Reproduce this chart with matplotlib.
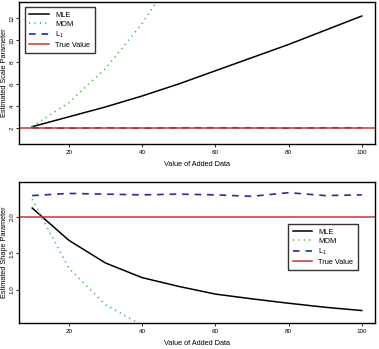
import numpy as np
import matplotlib.pyplot as plt

plt.rcParams['font.family'] = ['Liberation Sans', 'DejaVu Sans']
plt.rcParams['mathtext.fontset'] = 'custom'
plt.rcParams['mathtext.rm'] = 'Liberation Sans'

# --- data ---
added = [10, 20, 30, 40, 50, 60, 70, 80, 90, 100]

# scale parameter estimates
scale_mle = [2.1, 3.0, 3.9, 4.9, 6.0, 7.2, 8.4, 9.6, 10.9, 12.2]
scale_mom = [2.1, 4.3, 7.4, 11.5, 16.5, 22.0, 28.0, 35.0, 43.0, 52.0]
scale_l1 = [2.0, 1.96, 2.0, 1.96, 2.0, 2.0, 2.0, 1.96, 2.0, 2.0]
scale_true = 2

# shape parameter estimates
shape_mle = [2.12, 1.68, 1.37, 1.17, 1.05, 0.945, 0.88, 0.82, 0.765, 0.72]
shape_mom = [2.24, 1.30, 0.80, 0.52, 0.38, 0.30, 0.25, 0.21, 0.18, 0.16]
shape_l1 = [2.29, 2.32, 2.31, 2.30, 2.31, 2.30, 2.28, 2.33, 2.29, 2.30]
shape_true = 2.0

labels = ['MLE', 'MOM', r'L$_\mathregular{1}$', 'True Value']

fig = plt.figure(figsize=(3.79, 3.49), dpi=100)
ax1 = fig.add_axes([0.0501, 0.5874, 0.9393, 0.4069])
ax2 = fig.add_axes([0.0501, 0.0745, 0.9393, 0.4049])


def draw(ax, mle, mom, l1, true, ylim, yticks, ylab, leg_xy):
    ax.plot(added, mle, color='black', lw=1.1, label=labels[0])
    ax.plot(added, mom, color='#33bb33', lw=1.3, linestyle=(0, (0.6, 2.4)),
            label=labels[1])
    ax.plot(added, l1, color='#2a2aa0', lw=1.2, linestyle=(0, (4, 3.5)),
            label=labels[2])
    ax.axhline(true, color='#cc3333', lw=1.1, label=labels[3])
    ax.set_xlim(6.4, 103.6)
    ax.set_ylim(*ylim)
    ax.set_xticks([20, 40, 60, 80, 100])
    ax.set_yticks(yticks)
    ax.tick_params(labelsize=4.5, length=2, width=0.6, pad=2)
    ax.tick_params(axis='y', pad=1.2)
    for t in ax.get_yticklabels():
        t.set_rotation(90)
        t.set_va('center')
    for s in ax.spines.values():
        s.set_linewidth(1.0)
    ax.set_xlabel('Value of Added Data', fontsize=5.3)
    ax.xaxis.set_label_coords(0.5, -0.12)
    ax.set_ylabel(ylab, fontsize=5.3)
    ax.yaxis.set_label_coords(-0.032, 0.5)
    leg = ax.legend(loc='upper left', bbox_to_anchor=leg_xy, fontsize=5.3,
                    frameon=True, fancybox=False, borderaxespad=0,
                    handlelength=2.7, handletextpad=0.8, labelspacing=0.25,
                    borderpad=0.6)
    leg.get_frame().set_edgecolor('black')
    leg.get_frame().set_linewidth(1.0)


draw(ax1, scale_mle, scale_mom, scale_l1, scale_true, (0.52, 13.48),
     [2, 4, 6, 8, 10, 12], 'Estimated Scale Parameter', (0.017, 0.965))
draw(ax2, shape_mle, shape_mom, shape_l1, shape_true, (0.55, 2.48),
     [1.0, 1.5, 2.0], 'Estimated Shape Parameter', (0.756, 0.70))

plt.savefig('out.png', dpi=100)
